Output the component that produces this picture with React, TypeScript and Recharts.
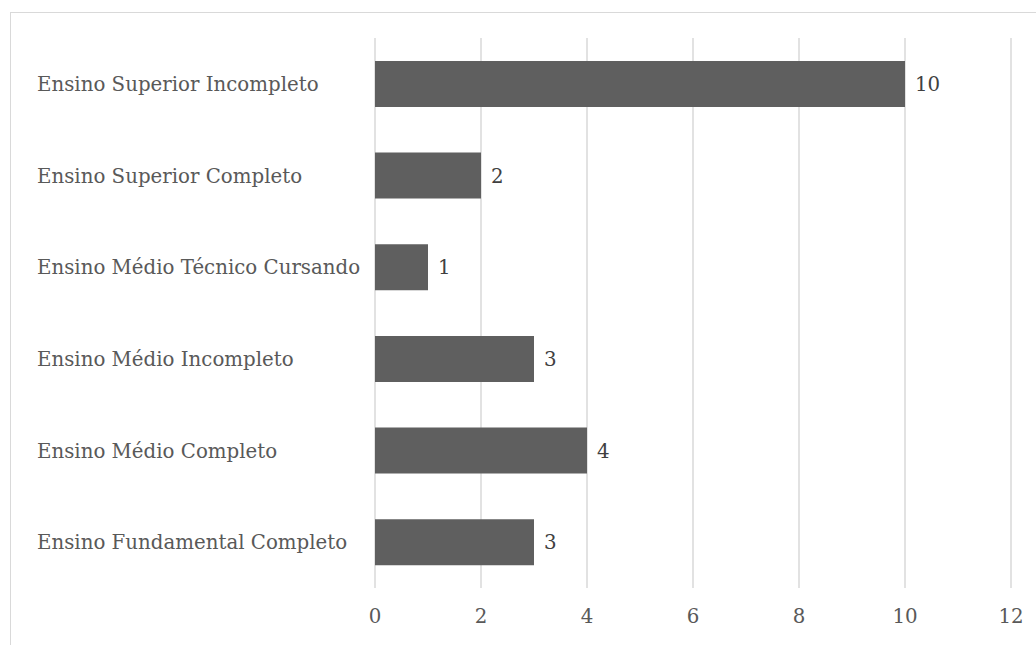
import React from "react";
import {
  BarChart,
  Bar,
  XAxis,
  YAxis,
  CartesianGrid,
  LabelList,
} from "recharts";

const categories = [
  "Ensino Superior Incompleto",
  "Ensino Superior Completo",
  "Ensino Médio Técnico Cursando",
  "Ensino Médio Incompleto",
  "Ensino Médio Completo",
  "Ensino Fundamental Completo",
];
const counts = [10, 2, 1, 3, 4, 3];
const xTicks = [0, 2, 4, 6, 8, 10, 12];

const data = categories.map((name, i) => ({ name, value: counts[i] }));

const FONT = "'DejaVu Serif', serif";
const SIZE = 19.8;

const LeftTick = (props: any) => {
  const { y, payload } = props;
  return (
    <text
      x={26}
      y={y}
      dy="0.36em"
      textAnchor="start"
      fill="#595959"
      fontSize={SIZE}
      fontFamily={FONT}
    >
      {payload.value}
    </text>
  );
};

export default function App() {
  return (
    <>
      <style>{"body{margin:0;overflow:hidden;background:#fff}"}</style>
      <div
        style={{
          marginLeft: 10,
          marginTop: 12,
          width: 1040,
          height: 650,
          border: "1px solid #d9d9d9",
          background: "#fff",
        }}
      >
        <BarChart
          width={1024}
          height={630}
          data={data}
          layout="vertical"
          margin={{ top: 25, right: 24, bottom: 15, left: 0 }}
          barCategoryGap="25%"
        >
          <CartesianGrid horizontal={false} stroke="#d9d9d9" strokeWidth={1.5} />
          <XAxis
            type="number"
            domain={[0, 12]}
            ticks={xTicks}
            axisLine={false}
            tickLine={false}
            tickMargin={15}
            height={40}
            tick={{ fill: "#595959", fontSize: SIZE, fontFamily: FONT }}
          />
          <YAxis
            type="category"
            dataKey="name"
            width={364}
            axisLine={false}
            tickLine={false}
            tick={<LeftTick />}
          />
          <Bar dataKey="value" fill="#5f5f5f" isAnimationActive={false}>
            <LabelList
              dataKey="value"
              position="right"
              offset={10}
              fill="#404040"
              fontSize={SIZE}
              fontFamily={FONT}
            />
          </Bar>
        </BarChart>
      </div>
    </>
  );
}
